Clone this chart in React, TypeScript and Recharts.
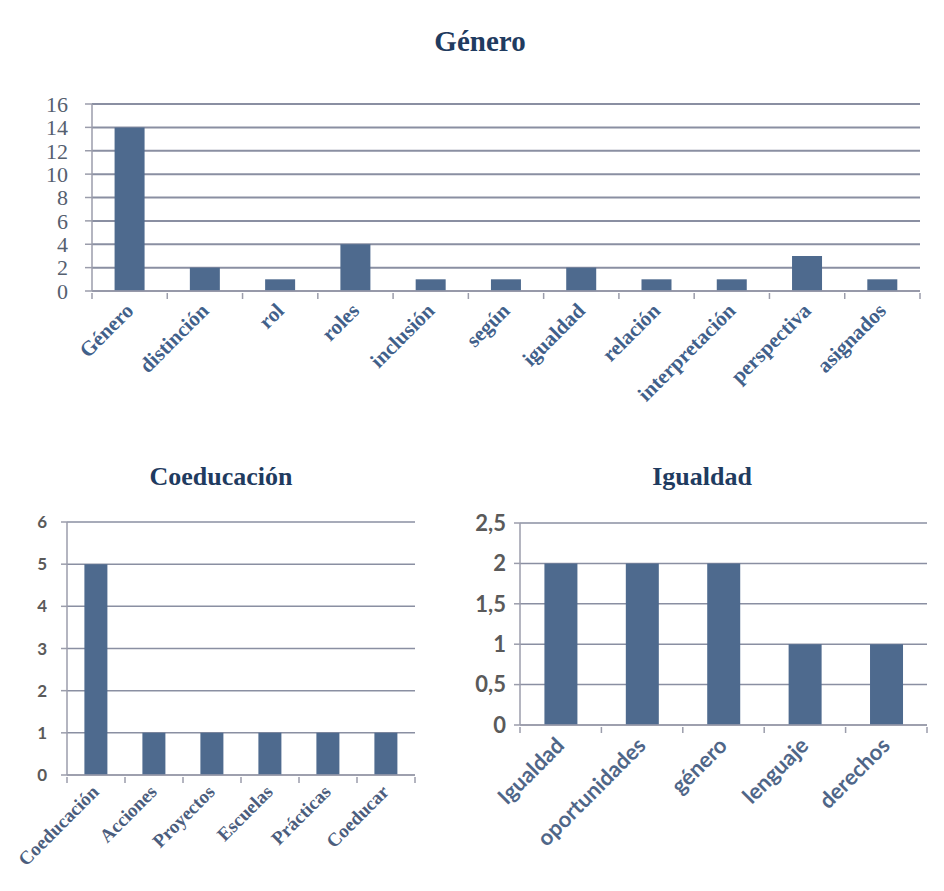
import React from 'react';
import { BarChart, Bar, XAxis, YAxis, CartesianGrid } from 'recharts';

// Género
const generoTerms = ['Género', 'distinción', 'rol', 'roles', 'inclusión', 'según', 'igualdad', 'relación', 'interpretación', 'perspectiva', 'asignados'];
const generoCounts = [14, 2, 1, 4, 1, 1, 2, 1, 1, 3, 1];
const generoTicks = [0, 2, 4, 6, 8, 10, 12, 14, 16];

// Coeducación
const coeduTerms = ['Coeducación', 'Acciones', 'Proyectos', 'Escuelas', 'Prácticas', 'Coeducar'];
const coeduCounts = [5, 1, 1, 1, 1, 1];
const coeduTicks = [0, 1, 2, 3, 4, 5, 6];

// Igualdad
const igualdadTerms = ['Igualdad', 'oportunidades', 'género', 'lenguaje', 'derechos'];
const igualdadCounts = [2, 2, 2, 1, 1];
const igualdadTicks = [0, 0.5, 1, 1.5, 2, 2.5];

const BAR = '#4e6a8e';
const GRID = '#8a8fa2';
const AXIS = '#9b9dab';
const SERIF = '"Liberation Serif", "DejaVu Serif", serif';
const SANS = 'Lato, "Open Sans", sans-serif';

const toRows = (terms: string[], counts: number[]) => terms.map((t, i) => ({ term: t, value: counts[i] }));

interface TickCfg {
  band: number;
  font: string;
  size: number;
  weight: number;
  color: string;
  dx: number;
  dy: number;
}

// category label turned 45°, plus the small marks between categories
const SlantTick = (props: any) => {
  const { x, y, payload, index, cfg } = props as { x: number; y: number; payload: { value: string }; index: number; cfg: TickCfg };
  const half = cfg.band / 2;
  return (
    <g>
      {index === 0 && <line x1={x - half} y1={y} x2={x - half} y2={y + 6} stroke={AXIS} strokeWidth={1.5} />}
      <line x1={x + half} y1={y} x2={x + half} y2={y + 6} stroke={AXIS} strokeWidth={1.5} />
      <text
        transform={`translate(${x + cfg.dx},${y + cfg.dy}) rotate(-45)`}
        textAnchor="end"
        fontFamily={cfg.font}
        fontSize={cfg.size}
        fontWeight={cfg.weight}
        fill={cfg.color}
      >
        {payload.value}
      </text>
    </g>
  );
};

const Title = ({ text, cx, top, size }: { text: string; cx: number; top: number; size: number }) => (
  <div
    style={{
      position: 'absolute',
      left: cx - 150,
      top,
      width: 300,
      textAlign: 'center',
      fontFamily: SERIF,
      fontWeight: 'bold',
      fontSize: size,
      color: '#1f3b60',
    }}
  >
    {text}
  </div>
);

export default function App() {
  const generoCfg: TickCfg = { band: 828 / 11, font: SERIF, size: 21, weight: 600, color: '#41608a', dx: 5, dy: 19 };
  const coeduCfg: TickCfg = { band: 348 / 6, font: SERIF, size: 19, weight: 600, color: '#4b5d7d', dx: 4, dy: 16 };
  const igualdadCfg: TickCfg = { band: 407 / 5, font: SANS, size: 22, weight: 700, color: '#4f6688', dx: 5, dy: 20 };

  return (
    <div style={{ position: 'absolute', left: 0, top: 0, width: 944, height: 891, background: '#ffffff', overflow: 'hidden' }}>
      <Title text="Género" cx={480} top={25} size={29} />
      <div style={{ position: 'absolute', left: 0, top: 0 }}>
        <BarChart width={944} height={440} data={toRows(generoTerms, generoCounts)} margin={{ top: 104, right: 24, left: 0, bottom: 0 }} barCategoryGap="30%">
          <CartesianGrid vertical={false} stroke={GRID} strokeWidth={2} />
          <XAxis
            dataKey="term"
            interval={0}
            height={149}
            tickLine={false}
            tickSize={0}
            axisLine={{ stroke: AXIS, strokeWidth: 1.5 }}
            tick={(p: any) => <SlantTick {...p} cfg={generoCfg} />}
          />
          <YAxis
            width={92}
            domain={[0, 16]}
            ticks={generoTicks}
            interval={0}
            axisLine={{ stroke: AXIS, strokeWidth: 1.5 }}
            tickLine={{ stroke: AXIS, strokeWidth: 1.5 }}
            tickSize={7}
            tickMargin={17}
            tick={{ fontFamily: SERIF, fontSize: 22, fill: '#55606f' }}
          />
          <Bar dataKey="value" fill={BAR} isAnimationActive={false} />
        </BarChart>
      </div>

      <Title text="Coeducación" cx={221} top={462} size={26} />
      <div style={{ position: 'absolute', left: 0, top: 460 }}>
        <BarChart width={430} height={431} data={toRows(coeduTerms, coeduCounts)} margin={{ top: 62, right: 15, left: 0, bottom: 0 }} barCategoryGap="30%">
          <CartesianGrid vertical={false} stroke={GRID} strokeWidth={1.5} />
          <XAxis
            dataKey="term"
            interval={0}
            height={116}
            tickLine={false}
            tickSize={0}
            axisLine={{ stroke: AXIS, strokeWidth: 1.5 }}
            tick={(p: any) => <SlantTick {...p} cfg={coeduCfg} />}
          />
          <YAxis
            width={67}
            domain={[0, 6]}
            ticks={coeduTicks}
            interval={0}
            axisLine={{ stroke: AXIS, strokeWidth: 1.5 }}
            tickLine={{ stroke: AXIS, strokeWidth: 1.5 }}
            tickSize={6}
            tickMargin={14}
            tick={{ fontFamily: SANS, fontSize: 17, fontWeight: 700, fill: '#5a5a5a' }}
          />
          <Bar dataKey="value" fill={BAR} isAnimationActive={false} />
        </BarChart>
      </div>

      <Title text="Igualdad" cx={702} top={462} size={26} />
      <div style={{ position: 'absolute', left: 430, top: 460 }}>
        <BarChart width={514} height={431} data={toRows(igualdadTerms, igualdadCounts)} margin={{ top: 63, right: 17, left: 0, bottom: 0 }} barCategoryGap="30%">
          <CartesianGrid vertical={false} stroke={GRID} strokeWidth={1.5} />
          <XAxis
            dataKey="term"
            interval={0}
            height={166}
            tickLine={false}
            tickSize={0}
            axisLine={{ stroke: AXIS, strokeWidth: 1.5 }}
            tick={(p: any) => <SlantTick {...p} cfg={igualdadCfg} />}
          />
          <YAxis
            width={90}
            domain={[0, 2.5]}
            ticks={igualdadTicks}
            interval={0}
            axisLine={{ stroke: AXIS, strokeWidth: 1.5 }}
            tickLine={{ stroke: AXIS, strokeWidth: 1.5 }}
            tickSize={6}
            tickMargin={8}
            tickFormatter={(v: number) => String(v).replace('.', ',')}
            tick={{ fontFamily: SANS, fontSize: 22, fontWeight: 700, fill: '#5a5a5a' }}
          />
          <Bar dataKey="value" fill={BAR} isAnimationActive={false} />
        </BarChart>
      </div>
    </div>
  );
}
